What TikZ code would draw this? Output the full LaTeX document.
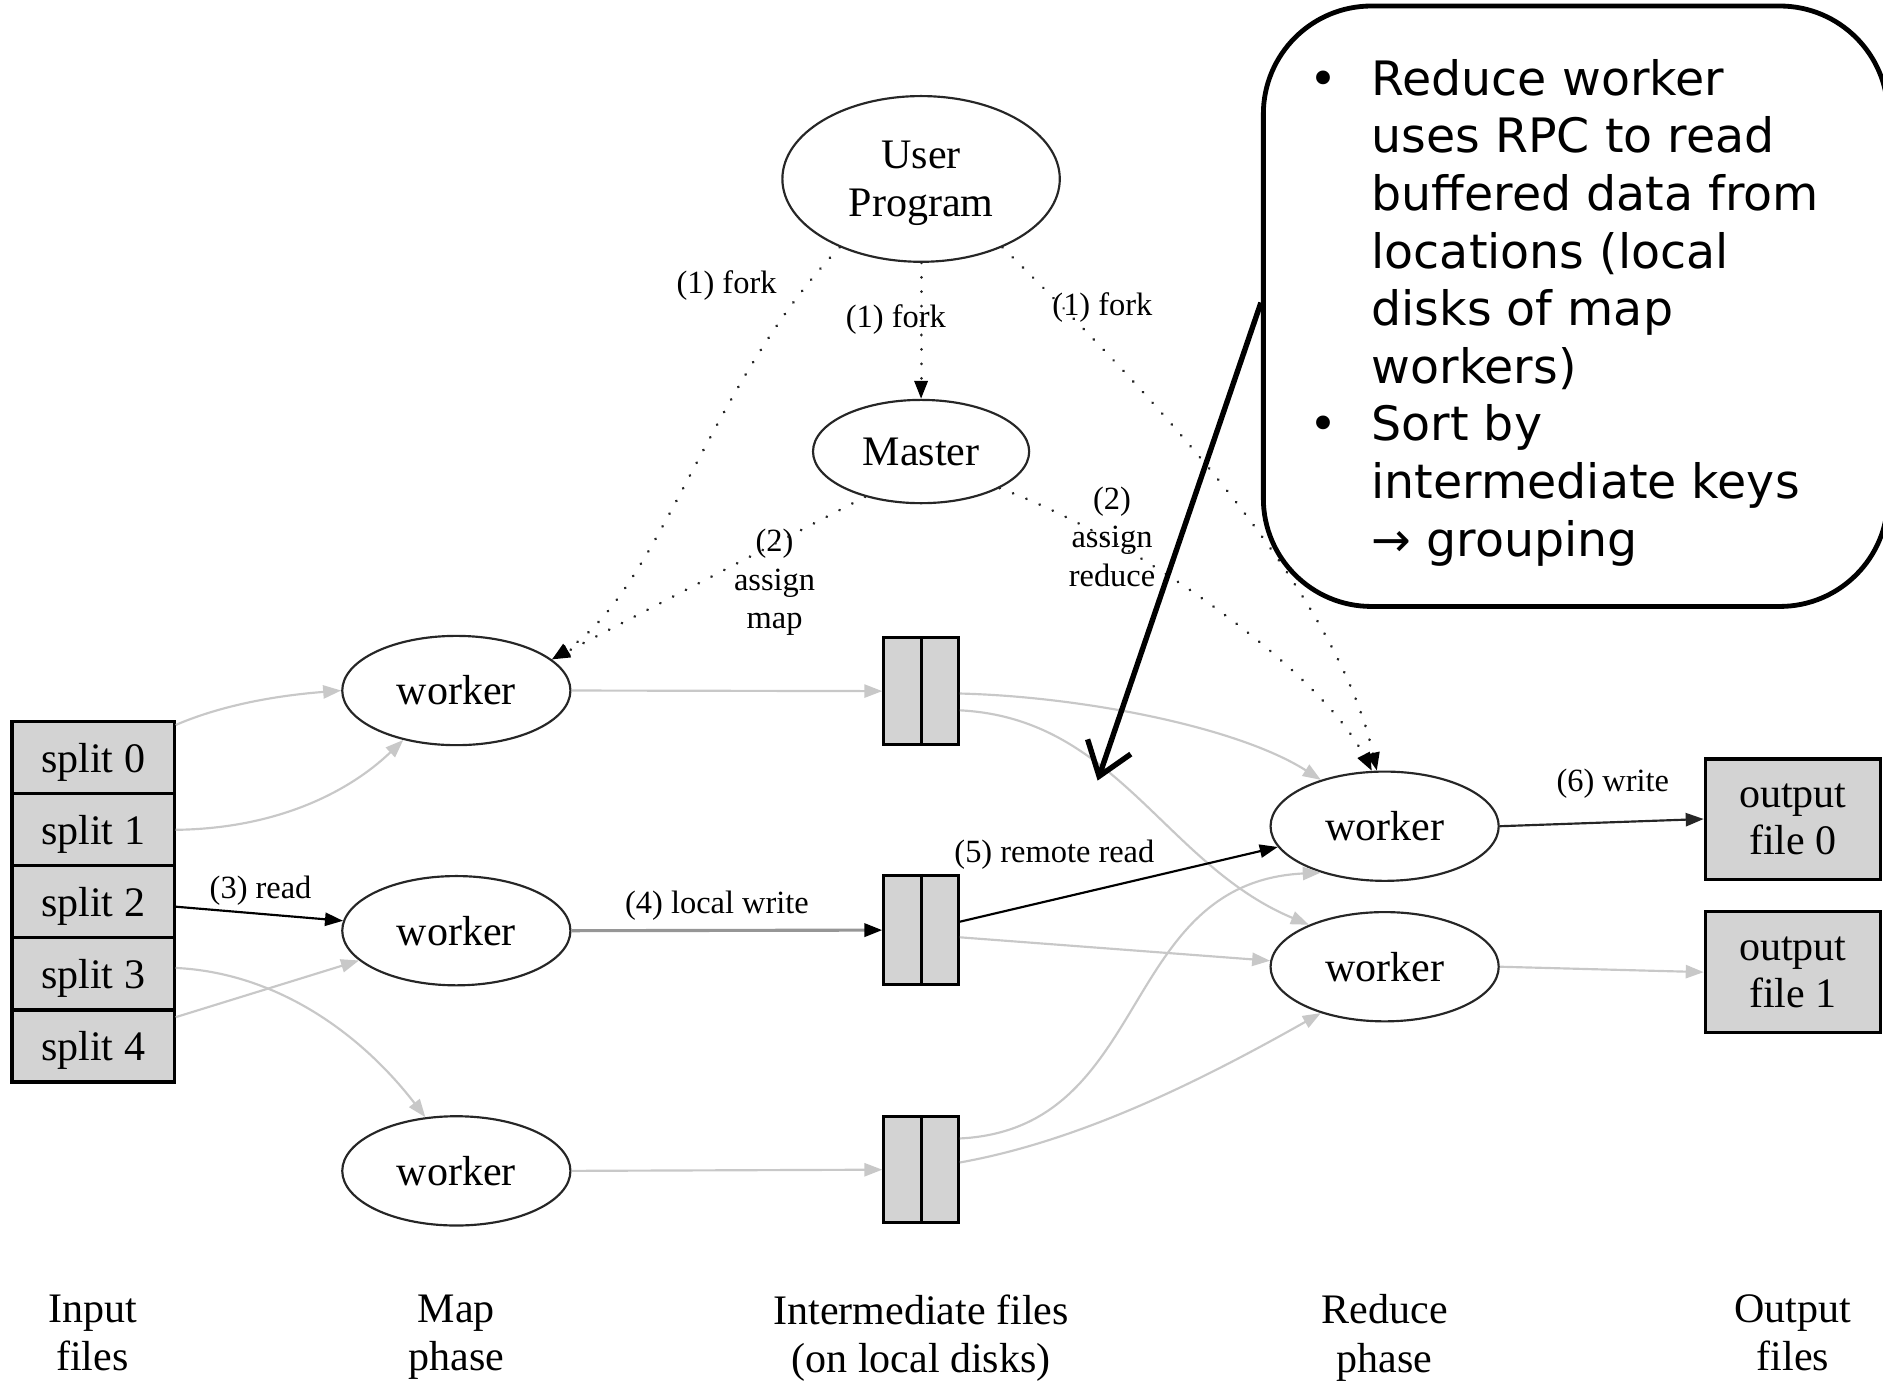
\documentclass[tikz,border=0pt]{standalone}
\usepackage{fontspec}
\setmainfont{Liberation Serif}
\newfontfamily\calloutfont{DejaVu Sans}
\usetikzlibrary{shapes.geometric,arrows.meta,calc}
\definecolor{boxgray}{RGB}{211,211,211}
\definecolor{lightedge}{RGB}{200,200,200}
\definecolor{midedge}{RGB}{150,150,150}
\begin{document}
\begin{tikzpicture}[x=1pt,y=-1pt,
  worker/.style={ellipse,draw=black!85,line width=1.8pt,minimum width=190pt,minimum height=91pt,inner sep=0pt,align=center,font=\fontsize{35}{40}\selectfont},
  filebox/.style={rectangle,draw=black,line width=2.6pt,fill=boxgray,inner sep=0pt,align=center,font=\fontsize{35}{39}\selectfont},
  splitbox/.style={filebox,minimum width=135pt,minimum height=60pt,text depth=0pt},
  lbl/.style={font=\fontsize{27}{32}\selectfont,align=center,inner sep=0pt},
  phase/.style={font=\fontsize{35}{40}\selectfont,align=center,inner sep=0pt,anchor=north},
  light/.style={draw=lightedge,line width=1.8pt,-{Triangle[length=15pt,width=11pt]}},
  midline/.style={draw=midedge,line width=2.6pt,-{Triangle[length=15pt,width=11pt,black]}},
  dark/.style={draw=black,line width=1.8pt,-{Triangle[length=15pt,width=11pt]}},
  dots/.style={draw=black!85,line width=2.5pt,line cap=round,dash pattern=on 0.01pt off 12pt,-{Triangle[length=15pt,width=11pt,black]}},
]
\useasboundingbox (0,0) rectangle (1568,1151);

% ---------- nodes ----------
\node[worker,minimum width=231pt,minimum height=138pt] (up) at (767,149) {User\\\raisebox{0pt}[\height][-4pt]{Program}};
\node[worker,minimum width=180pt,minimum height=86pt] (m) at (767,376) {Master};
\node[worker] (w1) at (380,575) {worker};
\node[worker] (w2) at (380,775) {worker};
\node[worker] (w3) at (380,975) {worker};
\node[worker] (r1) at (1153,688) {worker};
\node[worker] (r2) at (1153,805) {worker};

\node[splitbox] (s0) at (77.5,631) {split 0};
\node[splitbox] (s1) at (77.5,691) {split 1};
\node[splitbox] (s2) at (77.5,751) {split 2};
\node[splitbox] (s3) at (77.5,811) {split 3};
\node[splitbox] (s4) at (77.5,871) {split 4};

\node[filebox,minimum width=62pt,minimum height=89pt] (i1) at (767,575.5) {};
\node[filebox,minimum width=62pt,minimum height=91pt] (i2) at (767,774.5) {};
\node[filebox,minimum width=62pt,minimum height=88pt] (i3) at (767,974) {};
\draw[line width=2.6pt] (i1.north) -- (i1.south);
\draw[line width=2.6pt] (i2.north) -- (i2.south);
\draw[line width=2.6pt] (i3.north) -- (i3.south);

\node[filebox,minimum width=146pt,minimum height=100pt] (o1) at (1493,682) {output\\\raisebox{0pt}[\height][0pt]{file 0}};
\node[filebox,minimum width=146pt,minimum height=101pt] (o2) at (1493,809.5) {output\\\raisebox{0pt}[\height][0pt]{file 1}};

% ---------- labels ----------
\node[lbl] (lf1) at (605,238) {(1) fork};
\node[lbl] (lf2) at (746,266) {(1) fork};
\node[lbl] (lf3) at (918,256) {(1) fork};
\node[lbl] (la1) at (645,485) {(2)\\assign\\map};
\node[lbl] (la2) at (926,447) {(2)\\assign\\reduce};
\node[lbl] (lr3) at (217,742) {(3) read};
\node[lbl] (lw4) at (597,754) {(4) local write};
\node[lbl] (lr5) at (878,712) {(5) remote read};
\node[lbl] (lw6) at (1343,653) {(6) write};

\node[phase] (p1) at (77,1078) {Input\\files};
\node[phase] (p2) at (380,1078) {Map\\phase};
\node[phase] (p3) at (767,1078) {Intermediate files\\(on local disks)};
\node[phase] (p4) at (1153,1078) {Reduce\\phase};
\node[phase] (p5) at (1493,1078) {Output\\files};

% ---------- dotted control edges ----------
\draw[dots] (up.-140) .. controls (590,320) and (550,490) .. (w1.18);
\draw[dots] (up.south) -- (m.north);
\draw[dots] (up.-40) .. controls (930,300) and (1110,480) .. (r1.98);
\draw[dots] (m.-141) -- (w1.18);
\draw[dots] (m.-25) .. controls (950,450) and (1100,560) .. (r1.103);

% ---------- data edges ----------
\draw[light] ($(s0.north east)+(0,4)$) .. controls (178,590) and (220,580) .. (w1.west);
\draw[light] (s1.east) .. controls (230,690) and (290,660) .. (w1.-137);
\draw[dark] ($(s2.east)+(0,4)$) -- (w2.175);
\draw[light] ($(s3.east)+(0,-5)$) .. controls (230,810) and (300,860) .. (w3.120);
\draw[light] ($(s4.east)+(0,-24)$) -- (w2.-163);

\draw[light] (w1.east) -- (i1.west);
\draw[midline] (w2.east) -- (i2.west);
\draw[light] (w3.east) -- (i3.west);

\draw[light] ($(i1.east)+(0,2)$) .. controls (900,580) and (1030,605) .. (r1.144);
\draw[light] ($(i1.east)+(0,16)$) .. controls (930,598) and (970,720) .. (r2.151);
\draw[dark] ($(i2.east)+(0,-7)$) -- (r1.-169);
\draw[light] ($(i2.east)+(0,6)$) -- (r2.177);
\draw[light] ($(i3.east)+(0,-26)$) .. controls (960,940) and (930,735) .. (r1.-144);
\draw[light] ($(i3.east)+(0,-6)$) .. controls (900,950) and (1000,900) .. (r2.-144);

\draw[dark,draw=black!85] (r1.east) -- (o1.west);
\draw[light] (r2.east) -- (o2.west);

% ---------- callout ----------
\node[draw=black,line width=4pt,fill=white,rounded corners=90pt,minimum width=520pt,minimum height=500pt,inner sep=0pt] (callout) at (1312,255) {};
\node[anchor=north west,inner sep=0pt,align=left,font=\calloutfont\fontsize{39.5}{48}\selectfont] (ctext) at (1090,49) {%
\makebox[52pt][l]{•}Reduce worker\\
\hspace*{52pt}uses RPC to read\\
\hspace*{52pt}buffered data from\\
\hspace*{52pt}locations (local\\
\hspace*{52pt}disks of map\\
\hspace*{52pt}workers)\\
\makebox[52pt][l]{•}Sort by\\
\hspace*{52pt}intermediate keys\\
\hspace*{52pt}→ grouping};
\coordinate (ptip) at (914,650);
\draw[line width=4.5pt,-{Straight Barb[length=26pt,width=38pt]}] ($(callout.west)+(0,-3)$) -- (ptip);
\end{tikzpicture}
\end{document}
